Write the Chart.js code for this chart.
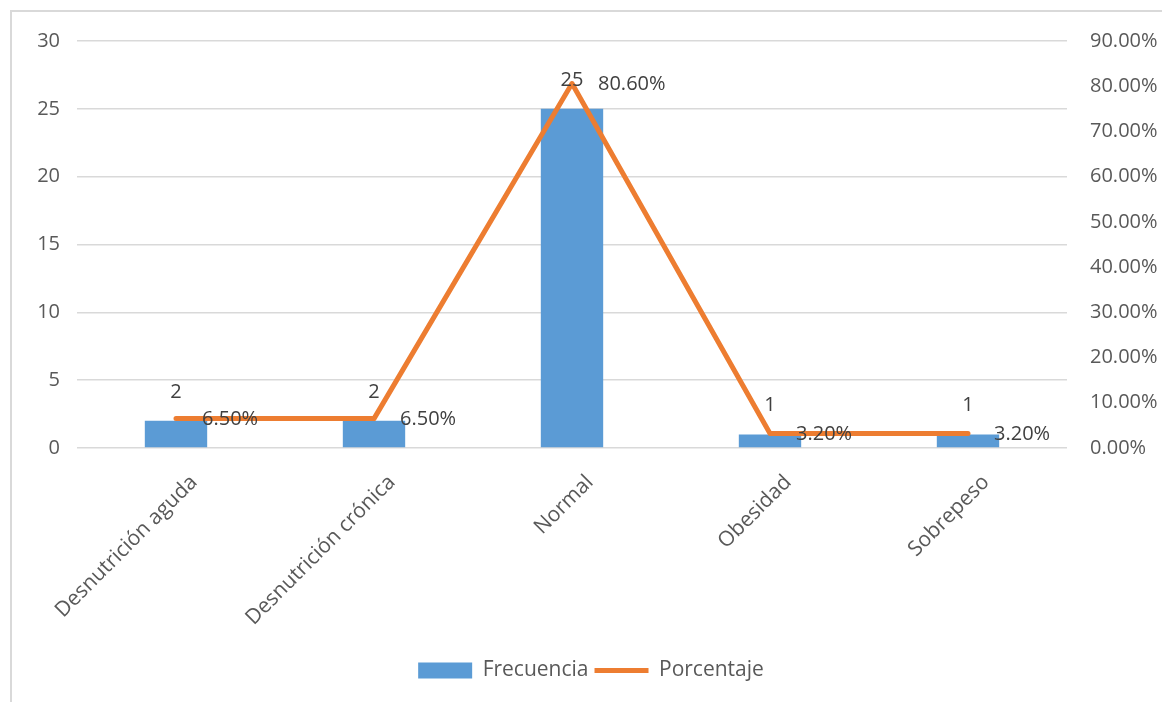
<!DOCTYPE html>
<html lang="es">
<head>
    <meta charset="UTF-8">
    <title>Frecuencia y porcentaje</title>
    <style>
        html, body {
            margin: 0;
            padding: 0;
            background: #ffffff;
            overflow: hidden;
        }
        #frame {
            position: absolute;
            left: 10px;
            top: 10px;
            width: 1300px;
            height: 900px;
            border: 2px solid #d9d9d9;
        }
        #chart {
            position: absolute;
            left: 0;
            top: 0;
        }
    </style>
    <script src="https://cdn.jsdelivr.net/npm/chart.js"></script>
</head>
<body>
    <div id="frame"></div>
    <canvas id="chart" width="1162" height="702"></canvas>

    <script>
        // datos
        const categorias = ['Desnutrición aguda', 'Desnutrición crónica', 'Normal', 'Obesidad', 'Sobrepeso'];
        const frecuencia = [2, 2, 25, 1, 1];
        const porcentaje = [6.5, 6.5, 80.6, 3.2, 3.2];

        const azul = '#5b9bd5';
        const naranja = '#ed7d31';
        const gris = '#595959';
        const fuente = "'Open Sans', sans-serif";

        // etiquetas de datos (como en Excel)
        const etiquetas = {
            id: 'etiquetas',
            afterDatasetsDraw(chart) {
                const ctx = chart.ctx;
                ctx.save();
                ctx.font = '20px ' + fuente;
                ctx.fillStyle = '#404040';
                ctx.textBaseline = 'middle';

                const barras = chart.getDatasetMeta(0).data;
                ctx.textAlign = 'center';
                barras.forEach((b, i) => {
                    ctx.fillText(frecuencia[i], b.x, b.y - 29);
                });

                const puntos = chart.getDatasetMeta(1).data;
                ctx.textAlign = 'left';
                puntos.forEach((p, i) => {
                    ctx.fillText(porcentaje[i].toFixed(2) + '%', p.x + 26, p.y + 1);
                });
                ctx.restore();
            }
        };

        const ctx = document.getElementById('chart').getContext('2d');
        new Chart(ctx, {
            data: {
                labels: categorias,
                datasets: [{
                    type: 'bar',
                    label: 'Frecuencia',
                    data: frecuencia,
                    backgroundColor: azul,
                    yAxisID: 'y',
                    order: 1,
                    barPercentage: 0.315,
                    categoryPercentage: 1
                }, {
                    type: 'line',
                    label: 'Porcentaje',
                    data: porcentaje,
                    borderColor: naranja,
                    backgroundColor: naranja,
                    borderWidth: 5,
                    borderCapStyle: 'round',
                    borderJoinStyle: 'round',
                    pointRadius: 0,
                    tension: 0,
                    yAxisID: 'y1',
                    order: 0
                }]
            },
            options: {
                responsive: false,
                animation: false,
                layout: {
                    // padding izquierdo para centrar la leyenda como en el original
                    padding: { top: 41, bottom: 11, left: 20, right: 0 }
                },
                scales: {
                    x: {
                        grid: { display: false },
                        border: { display: false },
                        ticks: {
                            color: gris,
                            font: { size: 21, family: fuente },
                            minRotation: 45,
                            maxRotation: 45,
                            padding: 14,
                            labelOffset: 18,
                            autoSkip: false
                        },
                        afterFit(scale) { scale.height = 206; }
                    },
                    y: {
                        position: 'left',
                        min: 0,
                        max: 30,
                        grid: { color: '#d9d9d9', lineWidth: 1.5, drawTicks: false },
                        border: { display: false },
                        ticks: {
                            stepSize: 5,
                            color: gris,
                            font: { size: 20, family: fuente },
                            padding: 17
                        },
                        afterFit(scale) { scale.width = 57; }
                    },
                    y1: {
                        position: 'right',
                        min: 0,
                        max: 90,
                        grid: { display: false },
                        border: { display: false },
                        ticks: {
                            stepSize: 10,
                            color: gris,
                            font: { size: 20, family: fuente },
                            padding: 15,
                            callback: v => v.toFixed(2) + '%'
                        },
                        afterFit(scale) { scale.width = 95; }
                    }
                },
                plugins: {
                    tooltip: { enabled: false },
                    legend: {
                        position: 'bottom',
                        labels: {
                            color: gris,
                            font: { size: 21, family: fuente },
                            usePointStyle: true,
                            pointStyleWidth: 54,
                            boxHeight: 16,
                            padding: 6,
                            generateLabels() {
                                return [{
                                    text: 'Frecuencia',
                                    fillStyle: azul,
                                    strokeStyle: azul,
                                    lineWidth: 0,
                                    pointStyle: 'rect',
                                    fontColor: gris,
                                    datasetIndex: 0
                                }, {
                                    text: 'Porcentaje',
                                    fillStyle: naranja,
                                    strokeStyle: naranja,
                                    lineWidth: 5,
                                    pointStyle: 'line',
                                    fontColor: gris,
                                    datasetIndex: 1
                                }];
                            }
                        }
                    }
                }
            },
            plugins: [etiquetas]
        });
    </script>
</body>
</html>
